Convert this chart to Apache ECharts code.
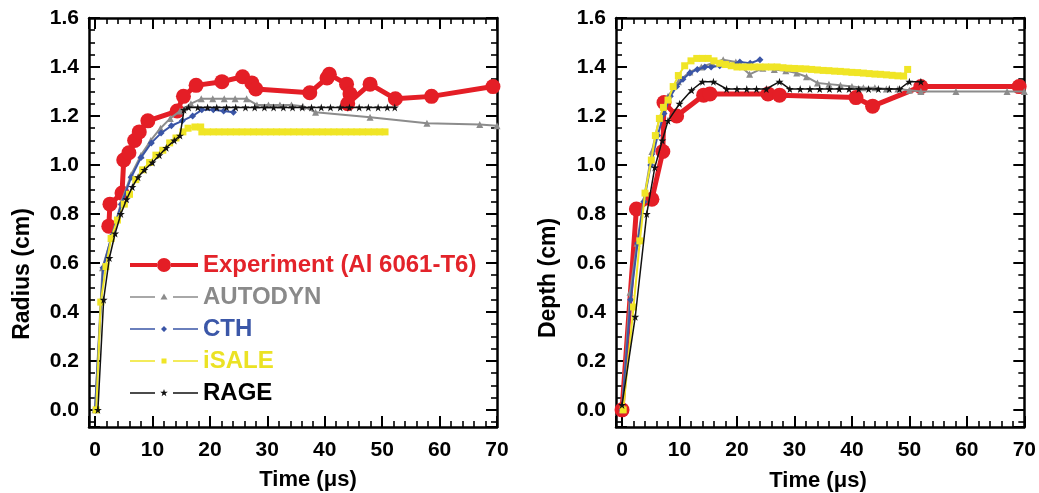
<!DOCTYPE html>
<html><head><meta charset="utf-8">
<script src="https://cdn.jsdelivr.net/npm/echarts@6/dist/echarts.min.js"></script>
<style>html,body{margin:0;padding:0;background:#fff}#c{width:1039px;height:493px}</style>
</head><body><div id="c"></div>
<script>
// ---------- tick labels / names ----------
const xTickLabels = [0, 10, 20, 30, 40, 50, 60, 70];
const yTickLabels = [0.0, 0.2, 0.4, 0.6, 0.8, 1.0, 1.2, 1.4, 1.6];
const seriesNames = ['Experiment (Al 6061-T6)', 'AUTODYN', 'CTH', 'iSALE', 'RAGE'];
const axisTitles = { x: 'Time (\u03bcs)', yLeft: 'Radius (cm)', yRight: 'Depth (cm)' };

// ---------- Radius (left panel) [time µs, radius cm] ----------
const expRadius = [[2.4,0.75],[2.6,0.84],[4.7,0.885],[5.0,1.02],[5.9,1.05],[6.9,1.10],[7.7,1.135],[9.2,1.18],[14.3,1.22],[15.4,1.28],[17.6,1.325],[22.1,1.34],[25.7,1.36],[27.3,1.335],[28.0,1.31],[37.4,1.295],[40.4,1.355],[40.8,1.37],[43.8,1.33],[44.4,1.29],[44.0,1.25],[47.9,1.33],[52.3,1.27],[58.6,1.28],[69.3,1.32]];
const autodynRadius = [[0,0],[1.3,0.58],[2.8,0.70],[4.6,0.85],[6.3,0.96],[8.0,1.04],[9.7,1.10],[11.4,1.15],[13.1,1.19],[14.8,1.22],[16.7,1.25],[18.5,1.27],[20.5,1.27],[22.5,1.27],[24.4,1.27],[26.4,1.27],[28.2,1.245],[30.2,1.245],[32.2,1.245],[34.2,1.245],[36.2,1.24],[38.4,1.215],[47.9,1.195],[57.8,1.17],[67.0,1.165],[70,1.16]];
const cthRadius = [[0,0],[1.4,0.58],[2.9,0.71],[4.6,0.84],[6.3,0.95],[8.0,1.03],[9.8,1.09],[11.5,1.13],[13.3,1.16],[15.2,1.18],[17.0,1.20],[18.6,1.225],[20.6,1.225],[22.4,1.22],[24.1,1.215]];
const isaleRadius = [[0.2,0],[1.0,0.44],[1.9,0.585],[2.8,0.70],[3.9,0.775],[5.1,0.84],[6.0,0.88],[7.1,0.94],[8.3,0.98],[9.5,1.01],[10.6,1.04],[11.8,1.06],[13.0,1.09],[14.1,1.11],[15.3,1.135],[16.2,1.15],[17.4,1.155],[18.4,1.155],[18.6,1.135],[19.6,1.135],[20.6,1.135],[21.6,1.135],[22.6,1.135],[23.6,1.135],[24.6,1.135],[25.6,1.135],[26.6,1.135],[27.6,1.135],[28.6,1.135],[29.6,1.135],[30.6,1.135],[31.6,1.135],[32.6,1.135],[33.6,1.135],[34.6,1.135],[35.6,1.135],[36.6,1.135],[37.6,1.135],[38.6,1.135],[39.6,1.135],[40.6,1.135],[41.6,1.135],[42.6,1.135],[43.6,1.135],[44.6,1.135],[45.6,1.135],[46.6,1.135],[47.6,1.135],[48.6,1.135],[49.6,1.135],[50.5,1.135]];
const rageRadius = [[0.5,0],[1.5,0.45],[2.5,0.62],[3.5,0.72],[4.5,0.80],[5.5,0.86],[6.5,0.91],[7.5,0.95],[8.6,0.98],[10.0,1.01],[11.2,1.04],[12.4,1.07],[13.8,1.10],[14.8,1.12],[15.5,1.225],[16.3,1.235],[17.9,1.235],[19.6,1.235],[21.2,1.235],[22.9,1.235],[24.5,1.235],[26.2,1.235],[27.8,1.235],[29.5,1.235],[31.1,1.235],[32.8,1.235],[34.4,1.235],[36.1,1.235],[37.7,1.235],[39.4,1.235],[41.0,1.235],[42.7,1.235],[44.3,1.235],[46.0,1.235],[47.6,1.235],[49.3,1.235],[50.9,1.235],[52.2,1.235]];

// ---------- Depth (right panel) [time µs, depth cm] ----------
const expDepth = [[0,0],[2.5,0.82],[5.2,0.86],[7.1,1.055],[7.3,1.255],[9.5,1.20],[14.2,1.285],[15.3,1.29],[25.4,1.29],[27.4,1.285],[40.7,1.275],[43.6,1.24],[52.0,1.32],[69.1,1.32]];
const autodynDepth = [[0,0],[1.4,0.48],[2.6,0.68],[3.8,0.86],[5.2,1.055],[6.5,1.19],[8.0,1.28],[9.8,1.34],[11.8,1.38],[13.8,1.40],[15.7,1.415],[17.6,1.43],[19.8,1.42],[22.2,1.37],[24.5,1.395],[26.5,1.39],[28.5,1.385],[30.4,1.375],[32.1,1.36],[34.0,1.335],[36.0,1.33],[38.0,1.325],[40.0,1.32],[42.0,1.315],[44.0,1.315],[46.0,1.31],[48.0,1.31],[50.0,1.305],[52.0,1.30],[58.1,1.30],[67.0,1.30],[70,1.30]];
const cthDepth = [[0,0],[1.5,0.45],[2.7,0.68],[3.8,0.85],[5.0,1.0],[6.2,1.12],[7.3,1.21],[8.4,1.28],[9.5,1.32],[10.6,1.35],[11.8,1.375],[13.1,1.39],[14.4,1.40],[15.5,1.40],[17.0,1.405],[18.5,1.41],[20.5,1.42],[22.3,1.415],[24.0,1.43]];
const isaleDepth = [[0.2,0],[2.0,0.42],[3.1,0.69],[4.0,0.885],[5.1,1.02],[5.8,1.12],[6.5,1.19],[7.2,1.235],[8.0,1.265],[8.9,1.32],[9.8,1.365],[10.9,1.405],[12.0,1.425],[13.0,1.435],[14.0,1.435],[15.0,1.435],[16.0,1.425],[17.0,1.415],[18.0,1.41],[19.0,1.405],[20.0,1.40],[21.0,1.40],[22.0,1.40],[23.0,1.40],[24.0,1.40],[25.0,1.40],[26.0,1.40],[27.0,1.40],[28.0,1.397],[29.0,1.395],[30.0,1.394],[31.0,1.393],[32.0,1.392],[33.0,1.39],[34.0,1.388],[35.0,1.386],[36.0,1.385],[37.0,1.383],[38.0,1.382],[39.0,1.38],[40.0,1.378],[41.0,1.377],[42.0,1.375],[43.0,1.373],[44.0,1.371],[45.0,1.37],[46.0,1.368],[47.0,1.366],[48.0,1.364],[49.0,1.363],[49.7,1.39]];
const rageDepth = [[0,0.02],[2.3,0.38],[4.3,0.80],[5.7,0.99],[7.0,1.10],[8.0,1.18],[10.0,1.25],[12.1,1.305],[14.0,1.34],[15.9,1.34],[18.2,1.31],[20.0,1.31],[21.7,1.31],[23.4,1.31],[25.1,1.31],[27.4,1.34],[29.2,1.31],[31.0,1.31],[32.7,1.31],[34.4,1.31],[36.1,1.31],[37.8,1.31],[39.5,1.31],[41.2,1.31],[42.9,1.31],[44.6,1.31],[46.5,1.31],[48.3,1.31],[50.0,1.34],[52.0,1.34]];

// ---------- styling ----------
const FONT = '"Liberation Sans", Arial, Helvetica, sans-serif';
const colors = ['#e41e26', '#8c8c8c', '#3a55a6', '#f0e526', '#111111'];
const legendTextColors = ['#e3232a', '#8a8a8a', '#3b57a8', '#ebe224', '#000000'];
const STAR = 'path://M50 0L61 35L98 35L68 57L79 91L50 70L21 91L32 57L2 35L39 35Z';
const symbols = ['circle', 'triangle', 'diamond', 'rect', STAR];
const symbolSizes = [15, 7, 7, 7, 8];
const lineWidths = [5, 2, 2, 2, 1.5];

const BOX = 'M0 0M68 14';
const thinLine = 'M0 6.2H25V7.8H0Z M43 6.2H68V7.8H43Z';
const legendIcons = [
  'path://' + BOX + 'M0 5H27V9H0Z M41 5H68V9H41Z M27 7A7 7 0 1 0 41 7A7 7 0 1 0 27 7Z',
  'path://' + BOX + thinLine + 'M34 3.5L37.5 9.5L30.5 9.5Z',
  'path://' + BOX + thinLine + 'M34 4L37 7L34 10L31 7Z',
  'path://' + BOX + thinLine + 'M31.5 4.5H36.5V9.5H31.5Z',
  'path://' + BOX + thinLine + 'M34 3L34.94 5.71L37.8 5.76L35.52 7.49L36.35 10.24L34 8.6L31.65 10.24L32.48 7.49L30.2 5.76L33.06 5.71Z'
];

const X_MIN = -1.05, X_MAX = 70, Y_MIN = -0.07, Y_MAX = 1.6;
const near = (arr, v) => arr.some(t => Math.abs(t - v) < 1e-6);
const labelStyle = { color: '#000', fontFamily: FONT, fontWeight: 'bold', fontSize: 21 };

function xAxisDef(gi, pos, withLabels) {
  return {
    type: 'value', gridIndex: gi, position: pos, min: X_MIN, max: X_MAX, splitNumber: 7,
    axisLine: { show: true, onZero: false, lineStyle: { color: '#000', width: 2.5 } },
    axisTick: { show: true, inside: true, length: 11, lineStyle: { color: '#000', width: 2 } },
    minorTick: { show: true, splitNumber: 5, length: 6, lineStyle: { color: '#000', width: 1.6 } },
    splitLine: { show: false },
    axisLabel: withLabels ? Object.assign({ show: true, interval: 0, margin: 13,
      formatter: v => near(xTickLabels, v) ? String(Math.round(v)) : '' }, labelStyle) : { show: false }
  };
}
function yAxisDef(gi, pos, withLabels) {
  return {
    type: 'value', gridIndex: gi, position: pos, min: Y_MIN, max: Y_MAX, splitNumber: 8,
    axisLine: { show: true, onZero: false, lineStyle: { color: '#000', width: 2.5 } },
    axisTick: { show: true, inside: true, length: 11, lineStyle: { color: '#000', width: 2 } },
    minorTick: { show: true, splitNumber: 4, length: 6, lineStyle: { color: '#000', width: 1.6 } },
    splitLine: { show: false },
    axisLabel: withLabels ? Object.assign({ show: true, interval: 0, margin: 10,
      formatter: v => near(yTickLabels, v) ? v.toFixed(1) : '' }, labelStyle) : { show: false }
  };
}

const leftData = [expRadius, autodynRadius, cthRadius, isaleRadius, rageRadius];
const rightData = [expDepth, autodynDepth, cthDepth, isaleDepth, rageDepth];
const series = [];
[[leftData, 0], [rightData, 2]].forEach(([sets, axi]) => {
  sets.forEach((d, i) => {
    series.push({
      name: seriesNames[i], type: 'line', xAxisIndex: axi, yAxisIndex: axi, data: d,
      symbol: symbols[i], symbolSize: symbolSizes[i], showSymbol: true,
      lineStyle: { color: colors[i], width: lineWidths[i] },
      itemStyle: { color: colors[i], borderWidth: 0 },
      emphasis: { disabled: true }, z: 2 + i
    });
  });
});

const titleFont = 'bold 22px ' + FONT;
const option = {
  animation: false,
  backgroundColor: '#fff',
  grid: [
    { left: 89, right: 542, top: 18, bottom: 66, containLabel: false },
    { left: 616, right: 14, top: 18, bottom: 66, containLabel: false }
  ],
  xAxis: [xAxisDef(0, 'bottom', true), xAxisDef(0, 'top', false), xAxisDef(1, 'bottom', true), xAxisDef(1, 'top', false)],
  yAxis: [yAxisDef(0, 'left', true), yAxisDef(0, 'right', false), yAxisDef(1, 'left', true), yAxisDef(1, 'right', false)],
  legend: {
    orient: 'vertical', left: 130, top: 253, itemWidth: 68, itemHeight: 14, itemGap: 8, itemTextGap: 7,
    selectedMode: false, padding: 0,
    data: seriesNames.map((n, i) => ({
      name: n, icon: legendIcons[i],
      itemStyle: { color: colors[i], borderWidth: 0 },
      textStyle: { color: legendTextColors[i], fontFamily: FONT, fontWeight: 'bold', fontSize: 24 }
    }))
  },
  graphic: [
    { type: 'text', z: 100, x: 308, y: 480, silent: true, style: { text: axisTitles.x, font: titleFont, fill: '#000', align: 'center', verticalAlign: 'middle' } },
    { type: 'text', z: 100, x: 818, y: 481, silent: true, style: { text: axisTitles.x, font: titleFont, fill: '#000', align: 'center', verticalAlign: 'middle' } },
    { type: 'text', z: 100, x: 23, y: 274, rotation: Math.PI / 2, silent: true, style: { text: axisTitles.yLeft, font: 'bold 23px ' + FONT, fill: '#000', align: 'center', verticalAlign: 'middle' } },
    { type: 'text', z: 100, x: 549, y: 278, rotation: Math.PI / 2, silent: true, style: { text: axisTitles.yRight, font: 'bold 23px ' + FONT, fill: '#000', align: 'center', verticalAlign: 'middle' } }
  ],
  series: series
};

const dom = document.getElementById('c');
let chart = echarts.init(dom, null, { renderer: 'canvas' });
chart.setOption(option);
// make sure the inward axis ticks actually got painted; otherwise draw with the SVG renderer
let ticksPainted = false;
try {
  const cv = dom.querySelector('canvas');
  const p = cv.getContext('2d').getImageData(491, 361, 1, 1).data;
  ticksPainted = p[3] > 128 && p[0] < 110 && p[1] < 110 && p[2] < 110;
} catch (e) { ticksPainted = false; }
if (!ticksPainted) {
  chart.dispose();
  chart = echarts.init(dom, null, { renderer: 'svg' });
  chart.setOption(option);
}
</script>
</body></html>
